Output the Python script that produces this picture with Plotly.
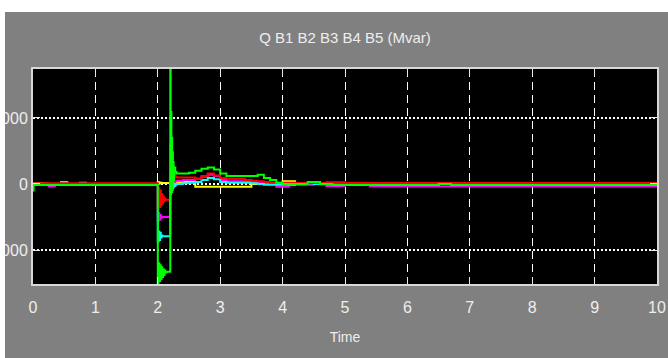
import plotly.graph_objects as go

# ---- data ----
t = [0.00, 0.01, 0.05, 0.15, 0.25, 0.35, 0.45, 0.55, 0.65, 0.75, 0.85, 1.00, 1.50, 1.95,
     2.000, 2.012, 2.024, 2.036, 2.048, 2.060, 2.072, 2.084, 2.096, 2.108, 2.120, 2.140, 2.170,
     2.200, 2.206, 2.212, 2.218, 2.224, 2.230, 2.236, 2.242, 2.248, 2.254, 2.260, 2.280, 2.300,
     2.40, 2.50, 2.60, 2.70, 2.80, 2.90, 3.00, 3.10, 3.20, 3.30, 3.40, 3.50, 3.60, 3.70, 3.80, 3.90,
     4.00, 4.10, 4.20, 4.30, 4.40, 4.50, 4.60, 4.70, 4.80, 4.90, 5.00, 5.20, 5.40, 5.60, 6.00,
     6.40, 6.50, 6.70, 7.00, 8.00, 9.00, 10.00]

q_b1 = [0, 10, 10, 5, 0, 0, 0, 0, 0, 0, 0, 0, 0, 0,
        30, 5, 22, 12, 17, 15, 15, 15, 15, 15, 15, 15, 15,
        80, -30, 60, -10, 40, 0, 30, 10, 25, 20, 20, 25, 30,
        30, 30, -40, -40, -40, -40, -40, -40, -40, -40, -40, 0, 10, 10, 5, 10,
        40, 40, 5, 0, 0, 0, 0, 20, 20, 20, 5, 0, 0, 0, 0,
        0, 0, 0, 0, 0, 0, 0]

q_b2 = [0, -10, -10, -10, -35, -15, -15, -15, -15, -10, -5, -5, -5, -5,
        -560, -440, -540, -470, -510, -495, -500, -500, -500, -500, -500, -500, -500,
        200, -50, 150, -20, 100, 0, 60, 20, 40, 30, 30, 40, 50,
        60, 60, 80, 110, 140, 120, 60, 40, 40, 40, 40, 30, 20, 10, 0, -40,
        -40, -20, -10, -10, -10, 0, 0, -30, -30, -30, -10, -10, -35, -35, -35,
        -35, -35, -35, -35, -35, -35, -35]

q_b3 = [0, 0, 0, 0, 0, 0, 30, 0, 0, 20, 0, 0, 0, 0,
        -870, -720, -850, -740, -810, -780, -790, -790, -790, -790, -790, -790, -790,
        100, -150, 50, -120, 0, -90, -30, -60, -40, -40, -30, -10, 0,
        10, 20, 30, 60, 90, 70, 30, 20, 20, 20, 20, 10, 0, -10, -10, -10,
        -10, -10, 0, 10, 10, 0, -5, -5, -5, -10, -10, -10, -10, -10, -10,
        -10, 10, -10, -10, -10, -10, -10]

q_b4 = [0, 10, 10, 10, 10, 10, 10, 10, 10, 10, 10, 10, 10, 10,
        -380, -60, -350, -100, -320, -150, -290, -190, -260, -220, -240, -240, -240,
        600, 150, 520, 180, 430, 150, 330, 130, 250, 120, 180, 110, 100,
        100, 100, 80, 120, 160, 130, 90, 80, 80, 80, 60, 50, 40, 30, 20, 20,
        20, 20, 15, 15, 15, 15, 15, 15, 15, 15, 15, 15, 15, 15, 15,
        15, 15, 15, 15, 15, 15, 15]

q_b5 = [-100, -15, -15, -15, -15, -15, -15, -15, -15, -15, -15, -15, -15, -15,
        -1500, -1200, -1470, -1230, -1440, -1260, -1410, -1290, -1380, -1310, -1340, -1330, -1330,
        2500, -150, 1090, -120, 700, -80, 480, 0, 330, 60, 250, 180, 160,
        160, 170, 200, 230, 250, 220, 160, 120, 120, 120, 120, 120, 140, 90, 60, 20,
        0, 0, 0, 0, 30, 30, 0, 0, -15, -15, -15, -15, -15, -15, -15,
        -15, 0, -15, -15, -15, -15, -15]

series_names = ["B1", "B2", "B3", "B4", "B5"]
series_values = [q_b1, q_b2, q_b3, q_b4, q_b5]
series_colors = ["#ffff00", "#ff00ff", "#00ffff", "#ff0000", "#00ff00"]

x_ticks = [0, 1, 2, 3, 4, 5, 6, 7, 8, 9, 10]
y_ticks = [-1000, 0, 1000]

title_text = "Q B1 B2 B3 B4 B5 (Mvar)"
x_title = "Time"

# ---- figure ----
FONT = "Liberation Sans Narrow, Arial Narrow, Liberation Sans, Arial, sans-serif"
TXT = "#eeeeee"

fig = go.Figure()
for name, vals, col in zip(series_names, series_values, series_colors):
    fig.add_trace(go.Scatter(x=t, y=vals, name=name, mode="lines",
                             line=dict(color=col, width=2, shape="hv")))

W, H = 668, 358
L, R, T, B = 33, 11, 69, 74
fig.update_layout(
    width=W, height=H,
    margin=dict(l=L, r=R, t=T, b=B, autoexpand=False),
    paper_bgcolor="#808080",
    plot_bgcolor="#000000",
    showlegend=False,
    title=dict(text=title_text, x=0.5, xref="paper", y=1 - 38 / H, yref="container",
               xanchor="center", yanchor="middle",
               font=dict(family=FONT, size=15, color=TXT)),
)

pw = W - L - R
ph = H - T - B
# white strips at the top and left edge of the cropped picture
fig.add_shape(type="rect", xref="paper", yref="paper", layer="above",
              x0=(0 - L) / pw, x1=(W - L) / pw,
              y0=(H - B - 12) / ph, y1=(H - B - 0) / ph,
              fillcolor="white", line=dict(width=0))
fig.add_shape(type="rect", xref="paper", yref="paper", layer="above",
              x0=(0 - L) / pw, x1=(5 - L) / pw,
              y0=(H - B - H) / ph, y1=(H - B) / ph,
              fillcolor="white", line=dict(width=0))

fig.update_xaxes(
    range=[0, 10], tickvals=x_ticks, automargin=False,
    showgrid=True, gridcolor="#ffffff", gridwidth=1, griddash="8px,5px",
    zeroline=False,
    showline=True, mirror="ticks", linecolor="#d8d8d8", linewidth=2,
    ticks="inside", ticklen=7, tickwidth=1, tickcolor="#e8e8e8",
    tickfont=dict(family=FONT, size=16, color=TXT),
    ticklabelstandoff=8,
    title=dict(text=x_title, font=dict(family=FONT, size=14, color=TXT), standoff=17),
)
fig.update_yaxes(
    range=[-1515, 1742], tickvals=y_ticks, automargin=False,
    showgrid=True, gridcolor="#ffffff", gridwidth=1.5, griddash="2px,2px",
    zeroline=False,
    showline=True, mirror="ticks", linecolor="#d8d8d8", linewidth=2,
    ticks="inside", ticklen=7, tickwidth=1, tickcolor="#e8e8e8",
    tickfont=dict(family=FONT, size=16, color=TXT),
)

fig.write_html("out.html")
